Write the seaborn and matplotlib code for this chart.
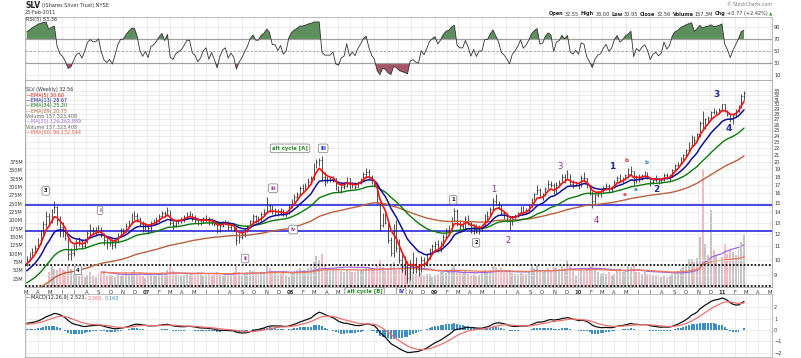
import numpy as np
import pandas as pd
import matplotlib
matplotlib.use("Agg")
import matplotlib.pyplot as plt
import matplotlib.dates as mdates
from matplotlib.ticker import NullLocator
import seaborn as sns

# ----------------------------
# Weekly SLV data, Mar-2006 .. 25-Feb-2011
# ----------------------------
# a few pre-chart weeks, only used to warm up the indicators
warmup_close = [7.4, 7.4, 7.3, 7.2, 7.3, 7.1, 7.0, 7.2, 7.1, 7.0, 6.9, 7.0, 7.0, 6.9,
                7.0, 7.1, 7.3, 7.4, 7.5, 7.6, 7.7, 7.7, 7.7, 7.8, 7.9, 8.0, 8.3,
                8.6, 8.9, 8.6, 8.7, 8.8, 9.0, 8.9, 9.3, 9.7, 9.7, 9.5, 9.4, 9.8]

close_2006 = [10.1, 10.3, 10.6, 10.9, 11.5, 12.0, 12.9, 13.6, 13.3, 14.0, 14.5, 13.3, 12.6,
              12.3, 11.7, 10.4, 10.5, 10.9, 11.3, 11.4, 11.0, 11.4, 12.1, 12.4, 12.3, 12.3,
              12.5, 12.0, 11.5, 11.3, 11.4, 11.1, 11.4, 11.9, 12.3, 12.3, 12.7, 13.1, 13.6,
              13.6, 13.4, 12.9, 12.6, 12.8]
high_2006 = [10.3, 10.6, 10.9, 11.1, 11.7, 12.4, 13.2, 14.1, 13.9, 14.3, 15.2, 14.6, 13.6,
             13.1, 12.6, 11.8, 10.9, 11.2, 11.6, 11.8, 11.6, 11.6, 12.3, 12.9, 12.6, 12.6,
             12.8, 12.6, 12.1, 11.7, 11.7, 11.6, 11.6, 12.1, 12.5, 12.5, 13.0, 13.3, 13.9,
             14.1, 13.9, 13.5, 13.2, 13.0]
low_2006 = [9.6, 9.9, 10.2, 10.5, 10.8, 11.2, 11.8, 12.6, 12.7, 13.0, 13.9, 12.8, 11.8,
            11.8, 11.5, 10.0, 10.0, 10.3, 10.7, 11.0, 10.8, 10.9, 11.3, 11.9, 11.9, 11.9,
            12.1, 11.8, 11.1, 10.8, 11.0, 10.8, 10.9, 11.3, 11.8, 11.9, 12.2, 12.6, 13.0,
            13.3, 13.1, 12.7, 12.2, 12.3]

close_2007 = [12.5, 13.0, 13.1, 13.3, 13.6, 13.9, 13.7, 14.2, 13.0, 12.8, 13.1, 13.2, 13.3,
              13.5, 13.8, 13.8, 13.4, 13.3, 13.0, 13.1, 13.3, 13.4, 13.0, 13.2, 12.9, 12.3,
              12.7, 13.0, 13.1, 12.6, 12.8, 12.6, 11.5, 11.8, 12.0, 12.3, 12.6, 13.2, 13.6,
              13.4, 13.4, 13.8, 14.0, 14.6, 14.5, 14.1, 14.1, 13.9, 14.1, 13.8, 13.9, 14.6]
high_2007 = [12.9, 13.2, 13.4, 13.5, 13.8, 14.1, 14.1, 14.5, 14.2, 13.2, 13.3, 13.4, 13.5,
             13.7, 14.0, 14.1, 13.9, 13.7, 13.4, 13.4, 13.5, 13.7, 13.5, 13.4, 13.3, 13.0,
             12.9, 13.2, 13.3, 13.2, 13.0, 12.9, 12.7, 12.1, 12.2, 12.5, 12.8, 13.3, 13.8,
             13.7, 13.6, 14.0, 14.3, 15.6, 14.8, 14.7, 14.4, 14.3, 14.4, 14.3, 14.0, 14.8]
low_2007 = [12.0, 12.3, 12.8, 12.9, 13.1, 13.5, 13.5, 13.6, 12.8, 12.4, 12.6, 12.9, 13.0,
            13.1, 13.4, 13.6, 13.2, 13.0, 12.8, 12.8, 13.0, 13.1, 12.8, 12.8, 12.7, 12.1,
            12.2, 12.6, 12.8, 12.4, 12.4, 12.3, 11.1, 11.3, 11.6, 11.8, 12.2, 12.5, 13.0,
            13.0, 13.1, 13.2, 13.6, 13.9, 14.0, 13.8, 13.7, 13.6, 13.7, 13.6, 13.5, 13.8]

close_2008 = [15.2, 15.6, 15.9, 16.6, 16.6, 16.9, 17.4, 17.8, 19.6, 20.0, 20.2, 18.0, 17.6,
              17.6, 17.6, 17.8, 16.6, 16.4, 16.8, 16.9, 17.8, 16.8, 17.1, 16.8, 17.3, 17.7,
              18.3, 18.6, 18.0, 17.4, 17.0, 15.0, 12.8, 13.4, 13.0, 11.5, 10.5, 11.2, 10.9,
              10.0, 9.6, 9.3, 8.8, 9.6, 9.7, 9.4, 9.3, 10.0, 9.7, 10.1, 10.7, 11.0]
high_2008 = [15.4, 15.9, 16.2, 16.9, 17.1, 17.2, 17.8, 18.1, 19.8, 20.4, 20.6, 20.8, 18.6,
             18.1, 18.0, 18.1, 17.9, 16.9, 17.2, 17.3, 18.0, 17.9, 17.4, 17.4, 17.5, 17.9,
             18.6, 19.2, 19.0, 18.2, 17.6, 17.1, 15.1, 13.9, 13.9, 13.0, 11.8, 12.9, 13.3,
             11.6, 10.4, 10.3, 9.9, 10.0, 10.6, 10.2, 9.7, 10.3, 10.2, 10.5, 10.9, 11.2]
low_2008 = [14.4, 14.9, 15.3, 15.7, 16.2, 16.4, 16.7, 17.2, 17.6, 19.2, 19.4, 17.5, 16.9,
            17.2, 17.3, 17.3, 16.4, 16.2, 16.1, 16.5, 16.8, 16.5, 16.6, 16.5, 16.7, 17.1,
            17.6, 17.9, 17.8, 17.1, 16.8, 14.8, 12.3, 12.6, 12.9, 11.3, 10.3, 10.2, 10.6,
            9.8, 9.2, 9.0, 8.5, 8.7, 9.1, 9.1, 8.9, 9.2, 9.5, 9.6, 10.1, 10.5]

close_2009 = [11.2, 10.9, 11.2, 11.8, 12.3, 12.5, 13.3, 14.1, 12.9, 12.7, 12.7, 13.4, 13.0,
              12.3, 12.8, 12.2, 12.6, 12.6, 13.6, 13.6, 14.3, 15.2, 14.9, 14.6, 13.9, 13.7,
              13.4, 12.9, 13.4, 13.6, 13.9, 14.4, 14.0, 14.2, 14.6, 15.3, 15.9, 16.4, 15.6,
              15.7, 16.5, 17.1, 17.0, 16.0, 17.0, 17.2, 18.0, 17.8, 18.3, 17.1, 16.9, 17.2]
high_2009 = [11.4, 11.5, 11.4, 12.0, 12.5, 12.8, 13.5, 14.4, 14.3, 13.3, 13.1, 13.6, 13.7,
             13.1, 12.9, 12.9, 12.8, 12.9, 13.8, 14.1, 14.5, 15.5, 15.9, 15.2, 14.8, 14.1,
             13.9, 13.5, 13.6, 13.8, 14.0, 14.6, 14.6, 14.4, 14.8, 15.5, 16.1, 17.0, 16.6,
             16.1, 16.8, 17.6, 17.5, 17.2, 17.4, 17.6, 18.3, 18.4, 18.9, 18.4, 17.6, 17.4]
low_2009 = [10.6, 10.6, 10.6, 11.0, 11.7, 12.0, 12.4, 13.2, 12.7, 12.2, 12.3, 12.5, 12.8,
            12.1, 12.0, 12.1, 12.0, 12.3, 12.6, 13.1, 13.6, 14.2, 14.7, 14.3, 13.7, 13.4,
            13.1, 12.4, 12.8, 13.3, 13.5, 13.8, 13.8, 13.8, 14.0, 14.5, 15.3, 15.9, 15.5,
            15.3, 15.7, 16.5, 16.8, 15.9, 16.0, 16.8, 17.2, 17.2, 17.7, 17.0, 16.6, 16.9]

close_2010 = [16.9, 17.9, 17.8, 16.8, 16.2, 15.2, 15.8, 16.1, 16.2, 16.6, 16.9, 16.5, 16.7,
              17.4, 17.9, 17.6, 17.8, 18.2, 18.4, 18.8, 17.3, 18.0, 17.8, 18.1, 18.3, 18.0,
              17.3, 17.6, 17.7, 17.5, 17.6, 18.2, 17.9, 18.1, 18.9, 19.5, 19.8, 20.5, 21.0,
              21.7, 22.6, 23.8, 23.3, 24.3, 26.4, 26.2, 27.0, 27.3, 28.4, 28.3, 28.5, 28.9, 30.0]
high_2010 = [17.4, 18.2, 18.6, 17.9, 16.9, 16.3, 15.9, 16.3, 16.4, 16.9, 17.2, 17.1, 16.9,
             17.6, 18.1, 18.4, 18.0, 18.4, 19.2, 19.4, 18.8, 18.2, 18.4, 18.3, 18.8, 18.6,
             18.0, 17.7, 18.2, 17.9, 17.9, 18.5, 18.5, 18.3, 19.0, 19.7, 20.0, 20.7, 21.2,
             21.9, 23.0, 24.1, 24.0, 24.6, 26.7, 28.7, 27.3, 27.6, 28.6, 29.3, 28.8, 29.2, 30.2]
low_2010 = [16.5, 16.8, 17.4, 16.6, 15.8, 14.4, 14.9, 15.6, 15.6, 16.0, 16.4, 16.1, 16.2,
            16.6, 17.3, 17.3, 17.2, 17.6, 17.8, 18.2, 17.0, 17.2, 17.4, 17.6, 17.9, 17.7,
            16.9, 17.1, 17.3, 17.1, 17.2, 17.5, 17.7, 17.5, 18.0, 18.8, 19.3, 19.7, 20.3,
            20.9, 21.6, 22.4, 22.5, 23.1, 23.9, 25.0, 25.2, 26.4, 26.8, 28.0, 27.8, 28.1, 28.7]

close_2011 = [28.6, 28.0, 27.0, 27.8, 28.6, 29.6, 31.9, 32.56]
high_2011 = [30.2, 28.9, 28.3, 27.9, 29.0, 29.8, 32.2, 33.0]
low_2011 = [28.4, 27.6, 26.6, 26.1, 27.5, 28.5, 29.3, 30.95]

# weekly volume, millions of shares (0 = before the fund traded)
vol_2006 = [0, 0, 0, 0, 0, 0, 0, 0, 45, 62, 55, 50, 58, 52, 48, 66, 54, 40, 38, 34, 40, 30,
            36, 44, 34, 30, 38, 42, 46, 34, 36, 34, 30, 38, 34, 40, 44, 38, 46, 50, 40, 44, 34, 26]
vol_2007 = [38, 40, 36, 34, 42, 46, 40, 50, 64, 48, 40, 36, 34, 36, 42, 38, 40, 36, 44, 38, 32,
            34, 40, 36, 38, 46, 36, 34, 38, 42, 40, 46, 62, 44, 36, 40, 44, 52, 48, 42, 38, 44,
            46, 66, 58, 48, 42, 40, 38, 42, 36, 30]
vol_2008 = [44, 48, 50, 56, 50, 52, 56, 60, 76, 92, 80, 98, 66, 54, 48, 52, 58, 56, 48, 46, 52,
            48, 46, 44, 48, 50, 54, 58, 56, 50, 58, 66, 80, 60, 48, 56, 62, 74, 52, 58, 64, 56,
            70, 54, 44, 40, 36, 42, 34, 38, 40, 30]
vol_2009 = [36, 40, 44, 46, 42, 48, 56, 66, 52, 44, 42, 48, 40, 36, 38, 34, 36, 40, 50, 44, 52,
            62, 60, 54, 56, 48, 44, 50, 42, 40, 38, 42, 40, 38, 44, 62, 58, 66, 50, 46, 52, 58,
            50, 60, 56, 54, 62, 58, 80, 66, 50, 32]
vol_2010 = [50, 56, 48, 58, 62, 70, 52, 46, 40, 42, 40, 44, 36, 38, 52, 58, 46, 44, 64, 60, 68,
            44, 46, 40, 44, 38, 40, 36, 34, 32, 30, 34, 30, 32, 40, 46, 48, 54, 60, 70, 84, 85,
            75, 88, 150, 355, 130, 95, 230, 110, 95, 70, 90]
vol_2011 = [130, 100, 110, 105, 95, 115, 135, 157.3]

# horizontal lines drawn on the price panel
blue_levels = [14.7, 12.28]
dotted_levels = [9.66, 8.33]

# month labels hidden behind the "alt cycle [B]" / "IV" boxes
hidden_months = ["2008-07", "2008-08", "2008-09", "2008-10"]

closes = close_2006 + close_2007 + close_2008 + close_2009 + close_2010 + close_2011
highs = high_2006 + high_2007 + high_2008 + high_2009 + high_2010 + high_2011
lows = low_2006 + low_2007 + low_2008 + low_2009 + low_2010 + low_2011
volume = vol_2006 + vol_2007 + vol_2008 + vol_2009 + vol_2010 + vol_2011
if not (len(closes) == len(highs) == len(lows) == len(volume)):
    raise SystemExit(f"length mismatch {len(closes)} {len(highs)} {len(lows)} {len(volume)}")

weeks = pd.date_range("2006-03-03", periods=len(closes), freq="W-FRI")
xd = mdates.date2num(weeks)

# ----------------------------
# Indicators
# ----------------------------
full = pd.Series(warmup_close + closes, dtype=float)
n0 = len(warmup_close)


def ema(s, span):
    return s.ewm(span=span, adjust=False).mean()


opens = full.shift(1).values[n0:]
ema5 = ema(full, 5).values[n0:]
ema13 = ema(full, 13).values[n0:]
ema34 = ema(full, 34).values[n0:]
ema89 = ema(full, 89).values[n0:]

delta = full.diff()
gain = delta.clip(lower=0).ewm(alpha=1 / 5, adjust=False).mean()
loss = (-delta.clip(upper=0)).ewm(alpha=1 / 5, adjust=False).mean()
rsi = (100 - 100 / (1 + gain / loss)).values[n0:]

macd_full = ema(full, 12) - ema(full, 26)
sig_full = ema(macd_full, 9)
macd = macd_full.values[n0:]
signal = sig_full.values[n0:]
hist = macd - signal

vol = pd.Series(volume, dtype=float).replace(0, np.nan)
vol_ma20 = vol.rolling(20).mean()
vol_ema50 = vol.ewm(span=50, adjust=False, ignore_na=True).mean().where(vol_ma20.notna())

# ----------------------------
# Figure / panels (pixel layout)
# ----------------------------
sns.set_style("white")
plt.rcParams["font.family"] = ["DejaVu Sans"]

W, H = 801, 358
fig = plt.figure(figsize=(W / 100, H / 100), dpi=100)
fig.patch.set_facecolor("white")


def box(x0, y0, x1, y1):
    return [x0 / W, 1 - y1 / H, (x1 - x0) / W, (y1 - y0) / H]


L, R = 25, 772
ax_vol = fig.add_axes(box(L, 80, R, 287))
ax_p = fig.add_axes(box(L, 80, R, 287), sharex=ax_vol)
ax_r = fig.add_axes(box(L, 17, R, 80), sharex=ax_vol)
ax_m = fig.add_axes(box(L, 294, R, 357), sharex=ax_vol)
ax_p.patch.set_visible(False)

GRID = "#e4e4e4"
TXT = "#333333"
months = pd.date_range("2006-03-01", "2011-05-01", freq="MS")
mx = mdates.date2num(months)
mlabels = []
for m in months:
    if m.strftime("%Y-%m") in hidden_months:
        mlabels.append("")
    elif m.month == 1:
        mlabels.append(f"{m.year % 100:02d}")
    else:
        mlabels.append("JFMAMJJASOND"[m.month - 1])

for ax in (ax_vol, ax_p, ax_r, ax_m):
    for sp in ax.spines.values():
        sp.set_color("#b0b0b0")
        sp.set_linewidth(0.6)
    ax.tick_params(length=0, labelsize=3.6, colors=TXT, pad=1.5)

ax_vol.set_xticks(mx)
ax_vol.set_xlim(mdates.date2num(pd.Timestamp("2006-02-26 12:00")),
                mdates.date2num(pd.Timestamp("2011-05-07")))

# ---- volume (behind price)
vol_colors = ["#c4c4c4" if c >= o else "#f4b8c1" for c, o in zip(closes, opens)]
ax_vol.bar(xd, volume, width=5, color=vol_colors, linewidth=0, zorder=2)
sns.lineplot(x=xd, y=vol_ma20.values, ax=ax_vol, color="#a066e0", linewidth=0.9, zorder=3)
sns.lineplot(x=xd, y=vol_ema50.values, ax=ax_vol, color="#f07a55", linewidth=0.9, zorder=3)
ax_vol.set_ylim(0, 621)
ax_vol.set_yticks(range(25, 376, 25))
ax_vol.set_yticklabels([f"{v}M" for v in range(25, 376, 25)])
ax_vol.grid(axis="x", color=GRID, linewidth=0.5)
ax_vol.tick_params(labelbottom=False)
ax_vol.set_xlabel("")
ax_vol.set_ylabel("")

# ---- price
ax_p.set_yscale("log")
ax_p.set_ylim(8.26, 35.67)
ax_p.set_yticks(range(9, 34))
ax_p.set_yticklabels([str(v) for v in range(9, 34)])
ax_p.yaxis.set_minor_locator(NullLocator())
ax_p.yaxis.tick_right()
ax_p.set_axisbelow(True)
ax_p.grid(axis="y", color=GRID, linewidth=0.5)

for lvl in blue_levels:
    ax_p.axhline(lvl, color="#2a2ae0", linewidth=1.2, zorder=3)
for lvl in dotted_levels:
    ax_p.axhline(lvl, color="#111111", linewidth=1.3, linestyle=(0, (1, 1)), zorder=3)

half = 1.6
ax_p.vlines(xd, lows, highs, color="#222222", linewidth=0.55, zorder=4)
ax_p.hlines(opens, xd - half, xd, color="#222222", linewidth=0.55, zorder=4)
ax_p.hlines(closes, xd, xd + half, color="#222222", linewidth=0.55, zorder=4)

for y, col, lw in [(ema89, "#b9613f", 1.0), (ema34, "#0b7a0b", 1.0),
                   (ema13, "#10109a", 1.1), (ema5, "#ff1010", 1.2)]:
    sns.lineplot(x=xd, y=y, ax=ax_p, color=col, linewidth=lw, zorder=5)
ax_p.set_xlabel("")
ax_p.set_ylabel("")
ax_p.set_xticks(mx)
ax_p.set_xticklabels(mlabels)
ax_p.tick_params(axis="x", labelsize=3.8, pad=2)
for t in ax_p.get_xticklabels():
    if len(t.get_text()) == 2:
        t.set_fontweight("bold")

# ---- wave annotations
boxed = [
    ("3", "2006-04-20", 16.3, "#111111"),
    ("i", "2006-09-05", 14.2, "#9a2a9a"),
    ("4", "2006-07-11", 9.3, "#111111"),
    ("iii", "2007-11-18", 16.6, "#9a2a9a"),
    ("ii", "2007-09-08", 10.1, "#9a2a9a"),
    ("iv", "2008-01-08", 12.4, "#9a2a9a"),
    ("alt cycle [A]", "2007-12-31", 22.0, "#1f8a1f"),
    ("III", "2008-03-24", 22.0, "#2020d0"),
    ("1", "2009-02-17", 15.3, "#111111"),
    ("2", "2009-04-16", 11.3, "#111111"),
    ("alt cycle [B]", "2008-07-07", 7.98, "#1f8a1f"),
    ("IV", "2008-10-08", 7.98, "#2020d0"),
]
for s, d, p, c in boxed:
    ax_p.text(mdates.date2num(pd.Timestamp(d)), p, s, ha="center", va="center",
              fontsize=3.8, fontweight="bold", color=c, zorder=7, clip_on=False,
              bbox=dict(boxstyle="round,pad=0.35", fc="white", ec="#777777", lw=0.5))

plain = [
    ("1", "2009-05-30", 16.5, "#8a2a8a", 6.0, "normal"),
    ("2", "2009-07-05", 11.5, "#8a2a8a", 6.0, "normal"),
    ("3", "2009-11-14", 19.4, "#8a2a8a", 6.0, "normal"),
    ("4", "2010-02-15", 13.2, "#8a2a8a", 6.0, "normal"),
    ("1", "2010-03-27", 19.3, "#1c2c9c", 6.5, "bold"),
    ("2", "2010-07-17", 16.5, "#1c2c9c", 6.5, "bold"),
    ("3", "2010-12-16", 32.1, "#1c2c9c", 6.5, "bold"),
    ("4", "2011-01-16", 25.4, "#1c2c9c", 6.5, "bold"),
    ("b", "2010-05-04", 20.2, "#e03030", 4.0, "bold"),
    ("a", "2010-04-27", 15.9, "#e03030", 4.0, "bold"),
    ("b", "2010-06-22", 19.9, "#2a8ab0", 4.0, "bold"),
    ("a", "2010-05-27", 16.4, "#2a8ab0", 4.0, "bold"),
]
for s, d, p, c, fs, fw in plain:
    ax_p.text(mdates.date2num(pd.Timestamp(d)), p, s, ha="center", va="center",
              fontsize=fs, fontweight=fw, color=c, zorder=7)

# ---- RSI panel
ax_r.set_ylim(1.7, 106.7)
ax_r.set_yticks([10, 30, 50, 70, 90])
ax_r.yaxis.tick_right()
ax_r.grid(axis="both", color=GRID, linewidth=0.5)
ax_r.axhline(70, color="#a0a0a0", linewidth=0.9)
ax_r.axhline(30, color="#a0a0a0", linewidth=0.9)
ax_r.axhline(50, color="#a0a0a0", linewidth=0.6, linestyle=(0, (3, 2)))
ax_r.fill_between(xd, rsi, 70, where=rsi > 70, interpolate=True, color="#5d8f5d", linewidth=0)
ax_r.fill_between(xd, rsi, 30, where=rsi < 30, interpolate=True, color="#a65468", linewidth=0)
sns.lineplot(x=xd, y=rsi, ax=ax_r, color="#333333", linewidth=0.6)
ax_r.tick_params(labelbottom=False)
ax_r.set_xlabel("")
ax_r.set_ylabel("")

# ---- MACD panel
ax_m.set_ylim(-2.39, 3.19)
ax_m.set_yticks([-2, -1, 0, 1, 2])
ax_m.yaxis.tick_right()
ax_m.grid(axis="both", color=GRID, linewidth=0.5)
ax_m.bar(xd, hist, width=5, color="#3d8fc6", linewidth=0, zorder=2)
sns.lineplot(x=xd, y=macd, ax=ax_m, color="#111111", linewidth=0.9, zorder=3)
sns.lineplot(x=xd, y=signal, ax=ax_m, color="#f26d6d", linewidth=0.9, zorder=3)
ax_m.tick_params(labelbottom=False)
ax_m.set_xlabel("")
ax_m.set_ylabel("")

# ----------------------------
# Header / legends (pixel placed)
# ----------------------------
renderer = fig.canvas.get_renderer()


def chain(x, y, pieces, gap=1.5):
    for s, color, weight, size in pieces:
        t = fig.text(x / W, 1 - y / H, s, color=color, fontsize=size,
                     fontweight=weight, va="center", ha="left")
        x += t.get_window_extent(renderer=renderer).width + gap
    return x


chain(25, 6, [("SLV", "#222222", "bold", 5.5),
              ("(iShares Silver Trust) NYSE", TXT, "normal", 3.6)])
fig.text(25 / W, 1 - 13 / H, "25-Feb-2011", fontsize=3.6, color=TXT, va="center")
fig.text(772 / W, 1 - 5 / H, "© StockCharts.com", fontsize=3.3, color="#777777",
         va="center", ha="right")
chain(549, 14, [("Open", "#222", "bold", 3.6), ("32.55", TXT, "normal", 3.6),
                ("High", "#222", "bold", 3.6), ("33.00", TXT, "normal", 3.6),
                ("Low", "#222", "bold", 3.6), ("30.95", TXT, "normal", 3.6),
                ("Close", "#222", "bold", 3.6), ("32.56", TXT, "normal", 3.6),
                ("Volume", "#222", "bold", 3.6), ("157.3M", TXT, "normal", 3.6),
                ("Chg", "#222", "bold", 3.6), ("+0.77 (+2.42%)", TXT, "normal", 3.6),
                ("▲", "#1a9a1a", "normal", 3.2)])

chain(26, 20, [("RSI(5) 83.36", TXT, "normal", 3.6)])

legend_rows = [
    ("SLV (Weekly) 32.56", TXT),
    ("—EMA(5) 30.60", "#ff1010"),
    ("—EMA(13) 28.67", "#10109a"),
    ("—EMA(34) 25.20", "#0b7a0b"),
    ("—EMA(89) 20.75", "#b9613f"),
    ("Volume 157,323,408", "#666666"),
    ("—MA(20) 126,262,889", "#a066e0"),
    ("Volume 157,323,408", "#666666"),
    ("—EMA(50) 96,132,544", "#f05a40"),
]
for i, (s, c) in enumerate(legend_rows):
    fig.text(26 / W, 1 - (90 + i * 5.3) / H, s, fontsize=3.5, color=c, va="center")

chain(26, 298, [("—MACD(12,26,9) 2.523,", "#222222", "normal", 3.6),
                ("2.360,", "#f26d6d", "normal", 3.6),
                ("0.163", "#3d8fc6", "normal", 3.6)])

fig.savefig("out.png", dpi=100)
